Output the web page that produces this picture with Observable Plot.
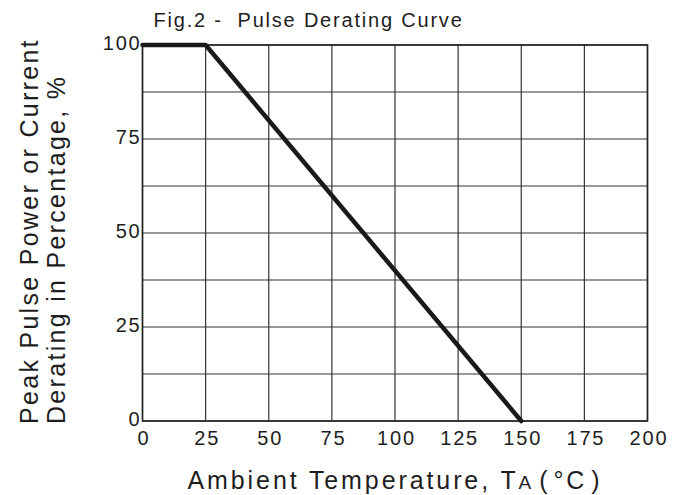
<!DOCTYPE html>
<html>
<head>
<meta charset="utf-8">
<script src="https://cdn.jsdelivr.net/npm/d3@7"></script>
<script src="https://cdn.jsdelivr.net/npm/@observablehq/plot@0.6"></script>
<style>
  html, body { margin: 0; padding: 0; background: #fff; }
  svg { display: block; }
</style>
</head>
<body>
<div id="chart"></div>
<script>
const temperature = [0, 25, 150];
const derating = [100, 100, 0];
const xTicks = [0, 25, 50, 75, 100, 125, 150, 175, 200];
const yTicks = [0, 25, 50, 75, 100];
const yGrid = [0, 12.5, 25, 37.5, 50, 62.5, 75, 87.5, 100];
const titleText = "Fig.2 -  Pulse Derating Curve";
const yLabel1 = "Peak Pulse Power or Current";
const yLabel2 = "Derating in Percentage, %";
const xLabel = "Ambient Temperature, TA(°C)";

const data = temperature.map((t, i) => ({t, d: derating[i]}));
const ink = "#1e1e1e";
const font = "'Liberation Sans', Arial, sans-serif";

const chart = Plot.plot({
  width: 686,
  height: 495,
  marginLeft: 142,
  marginRight: 39,
  marginTop: 44.5,
  marginBottom: 74.5,
  style: {fontFamily: font, color: ink, background: "#fff"},
  x: {domain: [0, 200]},
  y: {domain: [0, 100]},
  marks: [
    Plot.ruleX(xTicks, {stroke: "#333", strokeWidth: 1.2}),
    Plot.ruleY(yGrid, {stroke: "#333", strokeWidth: 1.2}),
    Plot.frame({stroke: "#222", strokeWidth: 1.6}),
    Plot.line(data, {x: "t", y: "d", stroke: "#1a1a1a", strokeWidth: 4.5, strokeLinejoin: "miter"}),
    Plot.axisX({ticks: xTicks, tickSize: 0, tickPadding: 10, fontSize: 20, dx: 1.5, label: null, fill: ink}),
    Plot.axisY({ticks: yTicks, tickSize: 0, tickPadding: 1, fontSize: 20, dy: -1, label: null, fill: ink}),
    Plot.text([titleText], {frameAnchor: "top-left", textAnchor: "start", lineAnchor: "bottom", dx: 11, dy: -18.5, fontSize: 20, fill: ink}),
    Plot.text([yLabel1], {frameAnchor: "bottom-left", textAnchor: "start", lineAnchor: "bottom", rotate: -90, dx: -105, dy: 3, fontSize: 25, fill: ink}),
    Plot.text([yLabel2], {frameAnchor: "bottom-left", textAnchor: "start", lineAnchor: "bottom", rotate: -90, dx: -78, dy: 3, fontSize: 25, fill: ink}),
    Plot.text([xLabel], {frameAnchor: "bottom", textAnchor: "middle", lineAnchor: "bottom", dy: 67.5, fontSize: 25, fill: ink})
  ]
});

document.getElementById("chart").appendChild(chart);

const svg = d3.select(chart);
svg.selectAll('g[aria-label="x-axis tick label"] text, g[aria-label="y-axis tick label"] text').style("letter-spacing", "1.8px");
svg.selectAll('g[aria-label="text"] text').each(function() {
  const el = d3.select(this);
  const s = el.text();
  if (s === titleText) el.style("letter-spacing", "1.8px");
  else if (s === yLabel1 || s === yLabel2) el.style("letter-spacing", "2.3px");
  else if (s === xLabel) {
    el.style("letter-spacing", "2.9px");
    el.html('Ambient Temperature, T<tspan font-size="19">A</tspan><tspan dx="5">(</tspan><tspan dx="3">°C</tspan><tspan dx="4">)</tspan>');
  }
});
</script>
</body>
</html>
